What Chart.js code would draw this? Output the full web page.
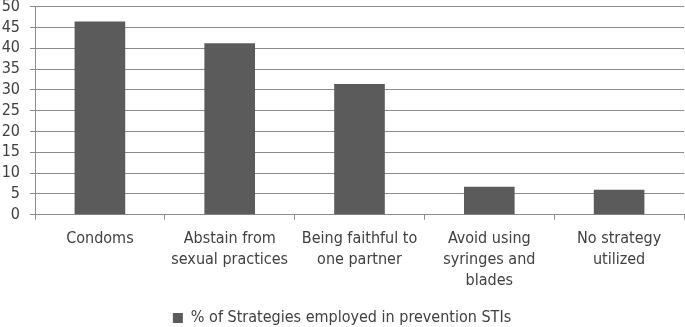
<!DOCTYPE html>
<html><head><meta charset="utf-8">
<script src="https://cdn.jsdelivr.net/npm/chart.js@4/dist/chart.umd.min.js"></script>
<style>html,body{margin:0;padding:0;background:#fff;overflow:hidden}#wrap{width:685px;height:327px;overflow:hidden;position:relative}#c{display:block;position:absolute;top:-13px;left:0}</style>
</head><body>
<div id="wrap"><canvas id="c" width="685" height="349"></canvas></div>
<script>
const categories = [
  ["Condoms"],
  ["Abstain from", "sexual practices"],
  ["Being faithful to", "one partner"],
  ["Avoid using", "syringes and", "blades"],
  ["No strategy", "utilized"]
];
const seriesName = "% of Strategies employed in prevention STIs";
const values = [46.4, 41.2, 31.4, 6.7, 6.0];
const yTicks = [0, 5, 10, 15, 20, 25, 30, 35, 40, 45, 50];

const FONT = "'DejaVu Sans Condensed', 'Liberation Sans Narrow', 'Open Sans', sans-serif";
new Chart(document.getElementById('c'), {
  type: 'bar',
  data: {
    labels: categories,
    datasets: [{
      label: seriesName,
      data: values,
      backgroundColor: '#5b5b5b',
      categoryPercentage: 0.39,
      barPercentage: 1.0
    }]
  },
  options: {
    responsive: false,
    animation: false,
    devicePixelRatio: 1,
    layout: { padding: { top: 0, right: 1, left: 0, bottom: 0 } },
    plugins: {
      legend: {
        position: 'bottom',
        labels: { font: { family: FONT, size: 16 }, color: '#404040', boxWidth: 10, boxHeight: 10, padding: 3 }
      },
      tooltip: { enabled: false }
    },
    scales: {
      y: {
        min: 0, max: 50,
        afterBuildTicks: (s) => { s.ticks = yTicks.map(v => ({ value: v })); },
        afterFit: (s) => { s.width = 35; },
        ticks: { font: { family: FONT, size: 16 }, color: '#404040', padding: 10, autoSkip: false, stepSize: 5 },
        grid: { color: '#8c8c8c', tickLength: 5, lineWidth: 1 },
        border: { color: '#8c8c8c' }
      },
      x: {
        afterFit: (s) => { s.height += 7; },
        ticks: { font: { family: FONT, size: 16, lineHeight: 1.34 }, color: '#404040', maxRotation: 0, autoSkip: false, padding: 8 },
        grid: { offset: true, drawOnChartArea: false, color: '#8c8c8c', tickLength: 5 },
        border: { color: '#8c8c8c' }
      }
    }
  }
});
</script>
</body></html>
